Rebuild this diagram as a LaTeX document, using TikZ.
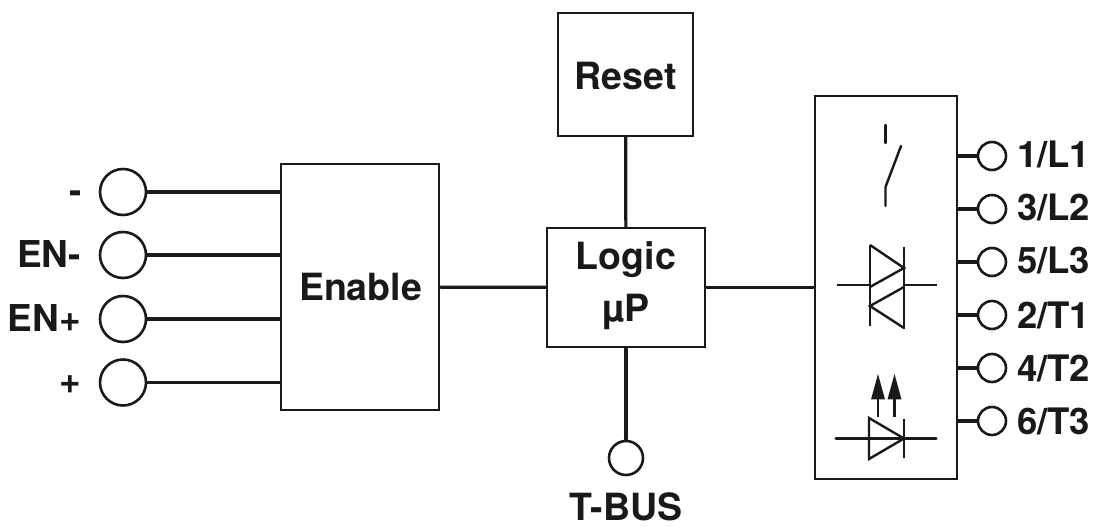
\documentclass[tikz,border=0pt]{standalone}
\usepackage{fontspec}
\setmainfont{TeX Gyre Heros}
\begin{document}
\begin{tikzpicture}[x=1pt,y=-1pt,
  ink/.style={draw=black!90},
  blockbox/.style={ink,line width=2.4pt,inner sep=0pt},
  wire/.style={ink,line width=3.2pt},
  sym/.style={ink,line width=2.4pt},
  termbig/.style={circle,ink,line width=2.6pt,minimum size=46pt,inner sep=0pt},
  termmid/.style={circle,ink,line width=2.6pt,minimum size=34pt,inner sep=0pt},
  termsmall/.style={circle,ink,line width=2.6pt,minimum size=28pt,inner sep=0pt},
  txt/.style={inner sep=0pt,font=\fontsize{37.5}{42}\selectfont\bfseries,text=black!90,anchor=base},
  lbl/.style={inner sep=0pt,font=\fontsize{37}{42}\selectfont\bfseries,text=black!90,anchor=base east},
  rlbl/.style={inner sep=0pt,font=\fontsize{36.5}{42}\selectfont\bfseries,text=black!90,anchor=base west}]
\useasboundingbox (0,0) rectangle (1098,526);
% blocks
\node[blockbox,minimum width=158pt,minimum height=246pt] (enable) at (360,287) {};
\node[txt] (enablet) at (360.5,301) {Enable};
\node[blockbox,minimum width=135pt,minimum height=123pt] (reset) at (625.5,74.5) {};
\node[txt] (resett) at (625.5,90) {Reset};
\node[blockbox,minimum width=158pt,minimum height=119pt] (logic) at (626,287.5) {};
\node[txt] (logict) at (626,270) {Logic};
\node[txt] (logicu) at (626,322) {µP};
\node[blockbox,minimum width=142pt,minimum height=383pt] (out) at (886,287.5) {};
% left terminals
\node[termbig] (tm) at (123,192) {};
\node[termbig] (ten) at (123,255) {};
\node[termbig] (tep) at (123,319) {};
\node[termbig] (tp) at (123,382.5) {};
\foreach \t in {tm,ten,tep,tp}{
  \draw[wire] (\t) -- (\t -| enable.west);
}
\node[lbl] (ltm) at (82,204) {-};
\node[lbl] (lten) at (81,268) {EN-};
\node[lbl] (ltep) at (81,332) {EN+};
\node[lbl] (ltp) at (81,394) {+};
% centre links
\draw[wire] (enable) -- (logic);
\draw[wire] (logic) -- (out);
\draw[wire] (reset) -- (logic);
\node[termmid] (tbus) at (626,458) {};
\draw[wire] (logic) -- (tbus);
\node[txt] (tbusl) at (626,520) {T-BUS};
% right terminals
\foreach \n/\y/\b/\s in {a/156/168/1\slash L1,b/209/221/3\slash L2,c/262/274/5\slash L3,d/315/329/2\slash T1,e/368/382/4\slash T2,f/421/435/6\slash T3}{
  \node[termsmall] (r\n) at (992,\y) {};
  \draw[wire] (r\n -| out.east) -- (r\n);
  \node[rlbl] (l\n) at (1017,\b) {\s};
}
% switch
\draw[sym,line cap=round] (885.5,125) -- (885.5,143);
\draw[sym,line cap=round] (885.5,206) -- (885.5,187) -- (901,146);
% triac
\draw[sym] (837,285) -- (870,285);
\draw[sym] (904,285) -- (937,285);
\draw[sym] (870,245) -- (870,326);
\draw[sym] (904,247) -- (904,329);
\draw[sym] (870,245) -- (904,268) -- (870,287);
\draw[sym] (904,287) -- (870,306) -- (904,328);
% LED
\draw[wire,line cap=round] (836,438.5) -- (936,438.5);
\draw[sym] (869,418) -- (904,438.5) -- (869,459) -- cycle;
\draw[sym] (904,419) -- (904,458);
\foreach \x in {878,894.5}{
  \draw[sym] (\x,395) -- (\x,417);
  \fill[black!90] (\x,374) -- (\x+7,399.5) -- (\x-7,399.5) -- cycle;
}
\end{tikzpicture}
\end{document}
